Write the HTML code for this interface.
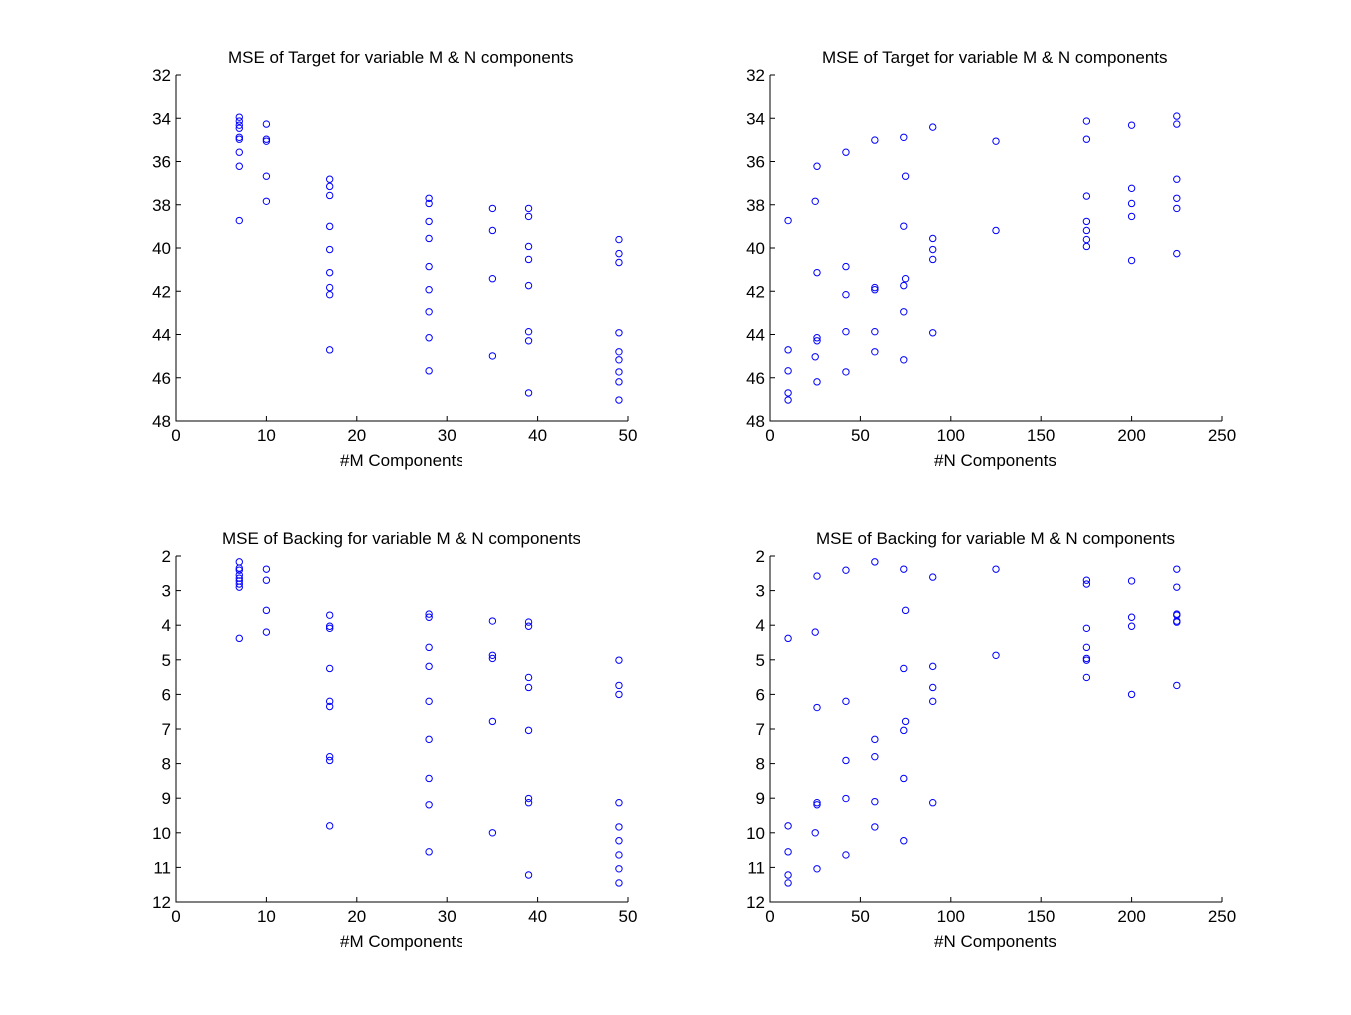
<!DOCTYPE html>
<html><head><meta charset="utf-8"><style>
body{margin:0;background:#fff}
svg{display:block;font-family:"Liberation Sans",Arial,sans-serif}
</style></head><body>
<svg id="fig" width="1351" height="1015" viewBox="0 0 1351 1015" xmlns="http://www.w3.org/2000/svg"></svg>
<script>
// Data arrays
const mTargetX = [7,7,7,7,7,7,7,7,7, 10,10,10,10,10, 17,17,17,17,17,17,17,17,17, 28,28,28,28,28,28,28,28,28, 35,35,35,35, 39,39,39,39,39,39,39,39, 49,49,49,49,49,49,49,49,49];
const mTargetY = [33.95,34.13,34.32,34.46,34.88,34.97,35.57,36.22,38.73, 34.27,34.97,35.06,36.68,37.84, 36.82,37.15,37.57,39.0,40.07,41.14,41.83,42.16,44.71, 37.7,37.94,38.77,39.56,40.86,41.93,42.95,44.15,45.68, 38.17,39.19,41.42,44.99, 38.17,38.54,39.93,40.53,41.74,43.87,44.29,46.7, 39.61,40.26,40.67,43.92,44.8,45.17,45.73,46.19,47.03];
const nTargetX = [10,10,10,10,10, 26,25,26,26,26,25,26, 42,42,42,42,42, 58,58,58,58,58, 74,75,74,75,74,74,74, 90,90,90,90,90, 125,125, 175,175,175,175,175,175,175, 200,200,200,200,200, 225,225,225,225,225,225];
const nTargetY = [38.73,44.71,45.68,46.7,47.03, 36.22,37.84,41.14,44.15,44.29,45.03,46.19, 35.57,40.86,42.16,43.87,45.73, 35.01,41.83,41.93,43.87,44.8, 34.88,36.68,38.99,41.42,41.74,42.95,45.17, 34.41,39.56,40.07,40.53,43.92, 35.06,39.19, 34.13,34.97,37.6,38.77,39.19,39.61,39.93, 34.32,37.24,37.94,38.54,40.58, 33.9,34.27,36.82,37.7,38.17,40.26];
const mBackX = [7,7,7,7,7,7,7,7,7, 10,10,10,10, 17,17,17,17,17,17,17,17,17, 28,28,28,28,28,28,28,28,28, 35,35,35,35,35, 39,39,39,39,39,39,39,39, 49,49,49,49,49,49,49,49,49];
const mBackY = [2.17,2.35,2.41,2.55,2.64,2.72,2.81,2.9,4.38, 2.38,2.7,3.57,4.2, 3.71,4.03,4.09,5.25,6.2,6.35,7.8,7.91,9.8, 3.68,3.77,4.64,5.19,6.2,7.3,8.43,9.19,10.55, 3.88,4.87,4.96,6.78,10.0, 3.91,4.03,5.51,5.8,7.04,9.01,9.13,11.22, 5.01,5.74,6.0,9.13,9.83,10.23,10.64,11.04,11.45];
const nBackX = [10,10,10,10,10, 26,25,26,26,26,25,26, 42,42,42,42,42, 58,58,58,58,58, 74,75,74,75,74,74,74, 90,90,90,90,90, 125,125, 175,175,175,175,175,175,175, 200,200,200,200, 225,225,225,225,225,225,225];
const nBackY = [4.38,9.8,10.55,11.22,11.45, 2.58,4.2,6.38,9.13,9.19,10.0,11.04, 2.41,6.2,7.91,9.01,10.64, 2.17,7.3,7.8,9.1,9.83, 2.38,3.57,5.25,6.78,7.04,8.43,10.23, 2.61,5.19,5.8,6.2,9.13, 2.38,4.87, 2.7,2.81,4.09,4.64,4.96,5.01,5.51, 2.72,3.77,4.03,6.0, 2.38,2.9,3.68,3.71,3.88,3.91,5.74];
const xTicksM = [0,10,20,30,40,50];
const xTicksN = [0,50,100,150,200,250];
const yTicksT = [32,34,36,38,40,42,44,46,48];
const yTicksB = [2,3,4,5,6,7,8,9,10,11,12];

const NS="http://www.w3.org/2000/svg";
const svg=document.getElementById('fig');
const defs=document.createElementNS(NS,'defs');svg.appendChild(defs);
function mk(tag,attrs,parent){const e=document.createElementNS(NS,tag);for(const k in attrs)e.setAttribute(k,attrs[k]);(parent||svg).appendChild(e);return e;}

let clipId=0;
function panel(name,L,R,T,B,xmin,xmax,ymin,ymax,xt,yt,xs,ys,title,xlabel,titleX,titleClip,xlabX,xlabClip){
  const g=mk('g',{});
  
  
  const sx=v=>L+(v-xmin)/(xmax-xmin)*(R-L);
  const sy=v=>T+(v-ymin)/(ymax-ymin)*(B-T);
  const ax=mk('path',{d:`M${L},${T}V${B}H${R}`,fill:'none',stroke:'#000','stroke-width':1},g);
  
  
  xt.forEach(v=>{
    const x=sx(v);
    mk('line',{x1:x,x2:x,y1:B,y2:B-5,stroke:'#000'},g);
    const t=mk('text',{x:x,y:B+20,'text-anchor':'middle','font-size':17},g);
    t.textContent=v;
    
    
  });
  yt.forEach(v=>{
    const y=sy(v);
    mk('line',{x1:L,x2:L+5,y1:y,y2:y,stroke:'#000'},g);
    const t=mk('text',{x:L-5,y:y+6,'text-anchor':'end','font-size':17},g);
    t.textContent=v;
    
    
  });
  xs.forEach((v,i)=>{
    const c=mk('circle',{cx:sx(v),cy:sy(ys[i]),r:3.2,fill:'none',stroke:'#0000ff','stroke-width':1},g);
    
    
  });
  const cid='c'+(clipId++);
  const cp=mk('clipPath',{id:cid},defs);
  mk('rect',{x:titleX-5,y:T-40,width:titleClip-titleX+5,height:35},cp);
  const tt=mk('text',{x:titleX,y:T-12,'font-size':17,'clip-path':`url(#${cid})`},g);
  tt.textContent=title;
  
  
  const cid2='c'+(clipId++);
  const cp2=mk('clipPath',{id:cid2},defs);
  mk('rect',{x:xlabX-5,y:B+25,width:xlabClip-xlabX+5,height:35},cp2);
  const xl=mk('text',{x:xlabX,y:B+45,'font-size':17,'clip-path':`url(#${cid2})`},g);
  xl.textContent=xlabel;
  
  
}
panel('plot-target-m',176,628,75,421,0,50,32,48,xTicksM,yTicksT,mTargetX,mTargetY,'MSE of Target for variable M & N components','#M Components',228,576,340,462);
panel('plot-target-n',770,1222,75,421,0,250,32,48,xTicksN,yTicksT,nTargetX,nTargetY,'MSE of Target for variable M & N components','#N Components',822,1170,934,1056);
panel('plot-backing-m',176,628,556,902,0,50,2,12,xTicksM,yTicksB,mBackX,mBackY,'MSE of Backing for variable M & N components','#M Components',222,580,340,462);
panel('plot-backing-n',770,1222,556,902,0,250,2,12,xTicksN,yTicksB,nBackX,nBackY,'MSE of Backing for variable M & N components','#N Components',816,1176,934,1056);
</script>
</body></html>
